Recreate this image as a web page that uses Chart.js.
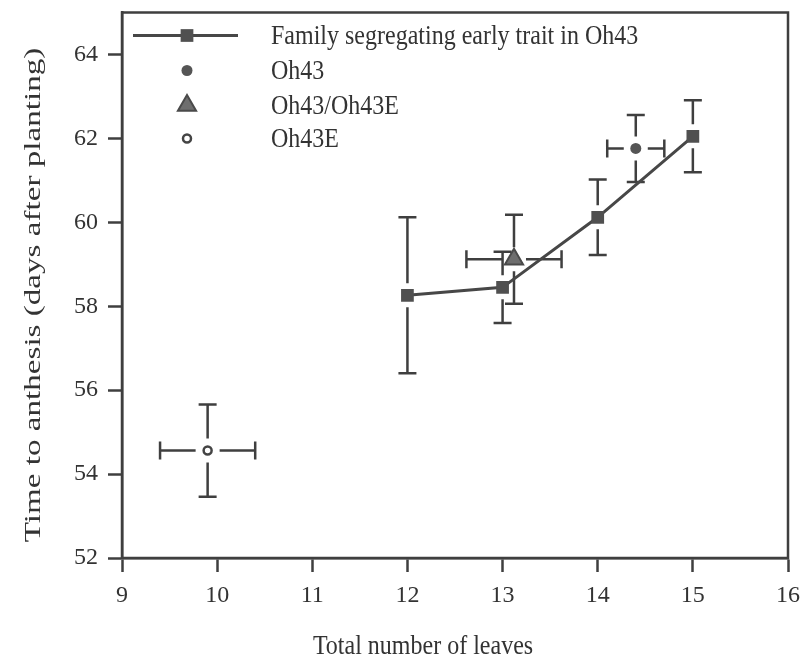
<!DOCTYPE html>
<html>
<head>
<meta charset="utf-8">
<script src="https://cdn.jsdelivr.net/npm/chart.js@4/dist/chart.umd.min.js"></script>
<style>
  html, body { margin: 0; padding: 0; background: #fff; }
  #wrap { width: 801px; height: 665px; }
</style>
</head>
<body>
<div id="wrap"><canvas id="leafChart" width="801" height="665"></canvas></div>
<script>
// tick labels
const xTicks = [9, 10, 11, 12, 13, 14, 15, 16];
const yTicks = [52, 54, 56, 58, 60, 62, 64];

// family segregating early trait
const famLeaves = [12, 13, 14, 15];
const famDays = [58.26, 58.45, 60.12, 62.05];
const famDaysErr = [1.86, 0.85, 0.9, 0.86];

// parent lines and hybrid
const oh43Leaves = [14.4];
const oh43Days = [61.76];
const oh43LeavesErr = [0.3];
const oh43DaysErr = [0.8];

const hybLeaves = [13.12];
const hybDays = [59.12];
const hybLeavesErr = [0.5];
const hybDaysErr = [1.06];

const oh43eLeaves = [9.9];
const oh43eDays = [54.56];
const oh43eLeavesErr = [0.5];
const oh43eDaysErr = [1.1];

const seriesNames = ['Family segregating early trait in Oh43', 'Oh43', 'Oh43/Oh43E', 'Oh43E'];
const xTitle = 'Total number of leaves';
const yTitle = 'Time to anthesis (days after planting)';

const ink = '#3f3f3f';
const serif = "'Liberation Serif', 'DejaVu Serif', serif";

function toPoints(xs, ys) {
    return xs.map((x, i) => ({ x: x, y: ys[i] }));
}

// error bars, drawn under the markers, with a small gap round each marker
const errorBars = {
    id: 'errorBars',
    beforeDatasetsDraw(chart) {
        const c = chart.ctx;
        const xs = chart.scales.x, ys = chart.scales.y;
        const gap = 12, cap = 9;
        c.save();
        c.strokeStyle = ink;
        c.lineWidth = 2.5;
        chart.data.datasets.forEach(ds => {
            ds.data.forEach((p, i) => {
                const px = xs.getPixelForValue(p.x);
                const py = ys.getPixelForValue(p.y);
                if (ds.errY) {
                    const top = ys.getPixelForValue(p.y + ds.errY[i]);
                    const bot = ys.getPixelForValue(p.y - ds.errY[i]);
                    c.beginPath();
                    c.moveTo(px, py - gap); c.lineTo(px, top);
                    c.moveTo(px - cap, top); c.lineTo(px + cap, top);
                    c.moveTo(px, py + gap); c.lineTo(px, bot);
                    c.moveTo(px - cap, bot); c.lineTo(px + cap, bot);
                    c.stroke();
                }
                if (ds.errX) {
                    const lft = xs.getPixelForValue(p.x - ds.errX[i]);
                    const rgt = xs.getPixelForValue(p.x + ds.errX[i]);
                    c.beginPath();
                    c.moveTo(px - gap, py); c.lineTo(lft, py);
                    c.moveTo(lft, py - cap); c.lineTo(lft, py + cap);
                    c.moveTo(px + gap, py); c.lineTo(rgt, py);
                    c.moveTo(rgt, py - cap); c.lineTo(rgt, py + cap);
                    c.stroke();
                }
            });
        });
        c.restore();
    }
};

function drawSym(c, style, x, y, r) {
    if (style === 'rect') {
        const s = Math.SQRT1_2 * r;
        c.rect(x - s, y - s, 2 * s, 2 * s);
    } else if (style === 'triangle') {
        c.moveTo(x, y - r);
        c.lineTo(x + r * 0.866, y + r * 0.5);
        c.lineTo(x - r * 0.866, y + r * 0.5);
        c.closePath();
    } else {
        c.arc(x, y, r, 0, Math.PI * 2);
    }
}

// text stretched a bit along one direction, like the scanned figure
function stretchedText(c, text, x, y, angle, sx, sy) {
    c.save();
    c.translate(x, y);
    c.rotate(angle);
    c.scale(sx, sy);
    c.fillText(text, 0, 0);
    c.restore();
}

// frame round the plot, legend in the top left corner, axis titles
const frameLegend = {
    id: 'frameLegend',
    afterDraw(chart) {
        const c = chart.ctx;
        const a = chart.chartArea;
        c.save();
        c.strokeStyle = ink;
        c.lineWidth = 2.5;
        c.strokeRect(a.left, a.top, a.right - a.left, a.bottom - a.top);

        const symX = a.left + 65;
        const textX = a.left + 149;
        const rowY = [a.top + 23, a.top + 58, a.top + 93, a.top + 126];
        c.font = '24px ' + serif;
        c.textBaseline = 'middle';
        chart.data.datasets.forEach((ds, i) => {
            const y = rowY[i];
            if (ds.showLine) {
                c.strokeStyle = ds.borderColor;
                c.lineWidth = ds.borderWidth;
                c.beginPath();
                c.moveTo(a.left + 11, y);
                c.lineTo(a.left + 116, y);
                c.stroke();
            }
            c.fillStyle = ds.pointBackgroundColor;
            c.strokeStyle = ds.pointBorderColor;
            c.lineWidth = ds.pointBorderWidth;
            c.beginPath();
            drawSym(c, ds.pointStyle, symX, y, ds.pointRadius);
            c.fill();
            if (ds.pointBorderWidth) c.stroke();
            c.fillStyle = '#333';
            c.textAlign = 'left';
            stretchedText(c, seriesNames[i], textX, y + 1, 0, 1, 1.12);
        });

        c.fillStyle = '#333';
        c.textAlign = 'center';
        stretchedText(c, xTitle, 423, 647, 0, 1, 1.12);
        stretchedText(c, yTitle, 34, 295, -Math.PI / 2, 1.38, 1);
        c.restore();
    }
};

new Chart(document.getElementById('leafChart'), {
    type: 'scatter',
    data: {
        datasets: [
            {
                label: seriesNames[0],
                data: toPoints(famLeaves, famDays),
                errY: famDaysErr,
                showLine: true,
                borderColor: '#474747',
                borderWidth: 3,
                pointStyle: 'rect',
                pointRadius: 9,
                pointBackgroundColor: '#505050',
                pointBorderColor: '#505050',
                pointBorderWidth: 0
            },
            {
                label: seriesNames[1],
                data: toPoints(oh43Leaves, oh43Days),
                errX: oh43LeavesErr,
                errY: oh43DaysErr,
                pointStyle: 'circle',
                pointRadius: 5.5,
                pointBackgroundColor: '#555',
                pointBorderColor: '#555',
                pointBorderWidth: 0
            },
            {
                label: seriesNames[2],
                data: toPoints(hybLeaves, hybDays),
                errX: hybLeavesErr,
                errY: hybDaysErr,
                pointStyle: 'triangle',
                pointRadius: 10.5,
                pointBackgroundColor: '#6e6e6e',
                pointBorderColor: '#4a4a4a',
                pointBorderWidth: 2
            },
            {
                label: seriesNames[3],
                data: toPoints(oh43eLeaves, oh43eDays),
                errX: oh43eLeavesErr,
                errY: oh43eDaysErr,
                pointStyle: 'circle',
                pointRadius: 4,
                pointBackgroundColor: '#fff',
                pointBorderColor: '#444',
                pointBorderWidth: 2.5
            }
        ]
    },
    options: {
        responsive: false,
        animation: false,
        layout: { padding: { left: 20, right: 13, top: 12, bottom: 5 } },
        plugins: {
            legend: { display: false },
            tooltip: { enabled: false }
        },
        scales: {
            x: {
                type: 'linear',
                min: 9,
                max: 16,
                afterBuildTicks: s => { s.ticks = xTicks.map(v => ({ value: v })); },
                afterFit: s => { s.height = 102; s.paddingLeft = 0; s.paddingRight = 0; },
                grid: { drawOnChartArea: false, drawTicks: true, tickLength: 14, tickColor: ink, tickWidth: 2.5 },
                border: { display: true, color: ink, width: 2.5 },
                ticks: { color: '#333', padding: 9, font: { family: serif, size: 24 } }
            },
            y: {
                type: 'linear',
                min: 52,
                max: 65,
                afterBuildTicks: s => { s.ticks = yTicks.map(v => ({ value: v })); },
                afterFit: s => { s.width = 102; s.paddingTop = 0; s.paddingBottom = 0; },
                grid: { drawOnChartArea: false, drawTicks: true, tickLength: 14, tickColor: ink, tickWidth: 2.5 },
                border: { display: true, color: ink, width: 2.5 },
                ticks: { color: '#333', padding: 10, font: { family: serif, size: 24 } }
            }
        }
    },
    plugins: [errorBars, frameLegend]
});
</script>
</body>
</html>
